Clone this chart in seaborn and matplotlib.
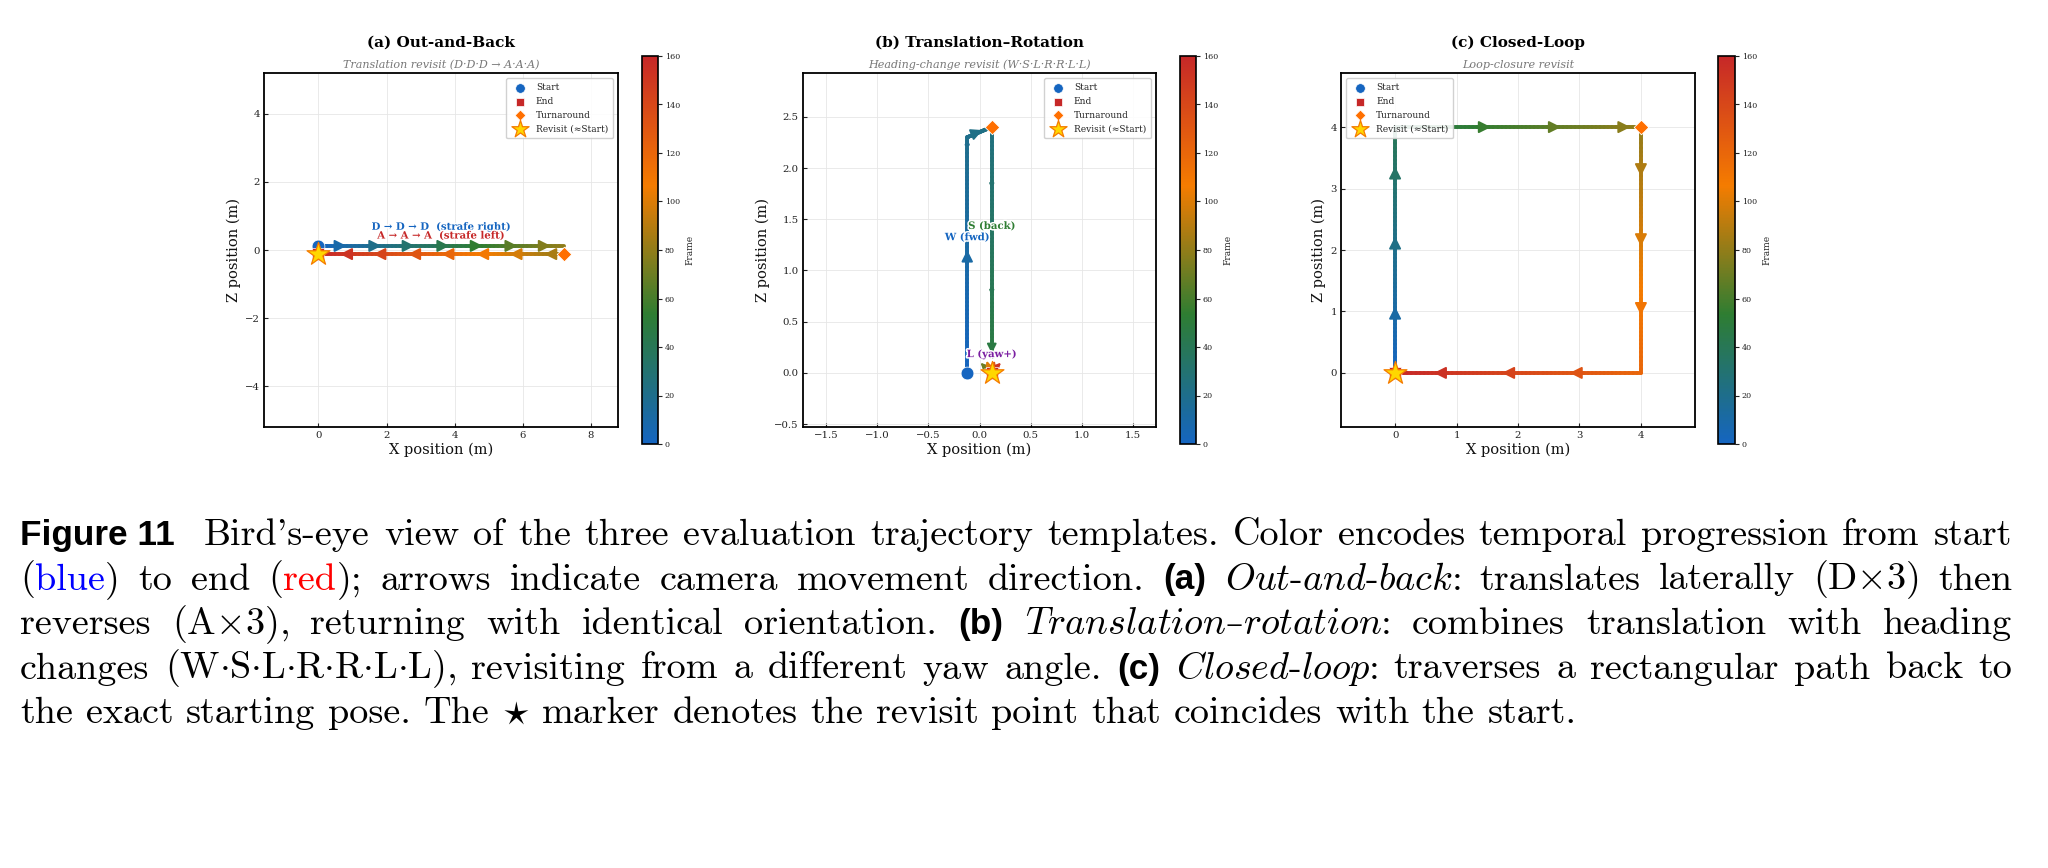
import numpy as np
import matplotlib
matplotlib.use("Agg")
import matplotlib.pyplot as plt
import matplotlib.patheffects as pe
from matplotlib.collections import LineCollection
from matplotlib.colors import LinearSegmentedColormap, Normalize
from matplotlib.cm import ScalarMappable
from matplotlib.transforms import IdentityTransform
import seaborn as sns

sns.set_theme(style="whitegrid")
plt.rcParams["font.family"] = ["DejaVu Serif"]
plt.rcParams["mathtext.fontset"] = "cm"

W, H = 2048, 868

# ---------------- data ----------------
frame_ticks = [0, 20, 40, 60, 80, 100, 120, 140, 160]
ramp = ["#1565C0", "#2E7D32", "#F57C00", "#C62828"]
marker_labels = ["Start", "End", "Turnaround", "Revisit (≈Start)"]

# (a) Out-and-Back: waypoints and frame index at each waypoint
a_path_x = [[0.0, 7.2], [7.2, 0.0]]
a_path_z = [[0.12, 0.12], [-0.12, -0.12]]
a_path_f = [[0, 80], [80, 160]]
a_arrow_x = [0.83, 1.85, 2.83, 3.85, 4.83, 5.85, 6.83, 6.63, 5.61, 4.63, 3.61, 2.63, 1.61, 0.63]
a_arrow_z = [0.12, 0.12, 0.12, 0.12, 0.12, 0.12, 0.12, -0.12, -0.12, -0.12, -0.12, -0.12, -0.12, -0.12]
a_arrow_dx = [1, 1, 1, 1, 1, 1, 1, -1, -1, -1, -1, -1, -1, -1]
a_arrow_dz = [0, 0, 0, 0, 0, 0, 0, 0, 0, 0, 0, 0, 0, 0]
a_arrow_f = [9, 21, 31, 43, 54, 65, 76, 86, 98, 109, 120, 131, 142, 153]
a_arrow_s = [18, 18, 18, 18, 18, 18, 18, 18, 18, 18, 18, 18, 18, 18]
a_marks = [(0.0, 0.12), (0.0, -0.12), (7.2, -0.12), (0.0, -0.12)]
a_labels = [("D → D → D  (strafe right)", 3.6, 0.67, "#1565C0"),
            ("A → A → A  (strafe left)", 3.6, 0.41, "#C62828")]

# (b) Translation-Rotation
b_path_x = [[-0.12, -0.12, 0.12, 0.12]]
b_path_z = [[0.0, 2.30, 2.40, 0.16]]
b_path_f = [[0, 20, 24, 48]]
b_arrow_x = [-0.12, -0.12, 0.03, 0.12, 0.12, 0.12, 0.01, 0.07, 0.15, 0.21]
b_arrow_z = [1.20, 2.28, 2.37, 1.80, 0.76, 0.19, 0.10, 0.12, 0.12, 0.10]
b_arrow_dx = [0, 0, 0.92, 0, 0, 0, -0.7, -0.3, 0.3, 0.7]
b_arrow_dz = [1, 1, 0.38, -1, -1, -1, 0.7, 0.95, 0.95, 0.7]
b_arrow_f = [10, 19, 22, 30, 41, 47, 70, 100, 130, 152]
b_arrow_s = [17, 6, 17, 6, 6, 14, 7, 7, 7, 7]
b_marks = [(-0.12, 0.0), (0.12, 0.0), (0.12, 2.40), (0.12, 0.0)]
b_labels = [("W (fwd)", -0.12, 1.32, "#1565C0"),
            ("S (back)", 0.12, 1.43, "#2E7D32"),
            ("L (yaw+)", 0.12, 0.18, "#7B1FA2")]

# (c) Closed-Loop
c_path_x = [[0.0, 0.0, 4.0, 4.0, 0.0]]
c_path_z = [[0.0, 4.0, 4.0, 0.0, 0.0]]
c_path_f = [[0, 40, 80, 120, 160]]
c_arrow_x = [0.0, 0.0, 0.0, 1.56, 2.70, 3.83, 4.0, 4.0, 4.0, 2.84, 1.74, 0.63]
c_arrow_z = [1.08, 2.22, 3.36, 4.0, 4.0, 4.0, 3.20, 2.06, 0.94, 0.0, 0.0, 0.0]
c_arrow_dx = [0, 0, 0, 1, 1, 1, 0, 0, 0, -1, -1, -1]
c_arrow_dz = [1, 1, 1, 0, 0, 0, -1, -1, -1, 0, 0, 0]
c_arrow_f = [11, 22, 34, 56, 67, 78, 88, 99, 111, 132, 143, 154]
c_arrow_s = [18, 18, 18, 18, 18, 18, 18, 18, 18, 18, 18, 18]
c_marks = [(0.0, 0.0), (0.0, 0.0), (4.0, 4.0), (0.0, 0.0)]
c_labels = []

panels = [
    dict(title="(a) Out-and-Back", sub="Translation revisit (D·D·D → A·A·A)",
         px=a_path_x, pz=a_path_z, pf=a_path_f,
         ax_=a_arrow_x, az=a_arrow_z, adx=a_arrow_dx, adz=a_arrow_dz, af=a_arrow_f, asz=a_arrow_s,
         marks=a_marks, labels=a_labels, label_z=2,
         xlim=(-1.6, 8.8), ylim=(-5.2, 5.2), xticks=[0, 2, 4, 6, 8], yticks=[-4, -2, 0, 2, 4],
         loc="upper right", box=(264, 73, 618, 427), cbox=(642, 56, 658, 444)),
    dict(title="(b) Translation–Rotation", sub="Heading-change revisit (W·S·L·R·R·L·L)",
         px=b_path_x, pz=b_path_z, pf=b_path_f,
         ax_=b_arrow_x, az=b_arrow_z, adx=b_arrow_dx, adz=b_arrow_dz, af=b_arrow_f, asz=b_arrow_s,
         marks=b_marks, labels=b_labels, label_z=6,
         xlim=(-1.727, 1.727), ylim=(-0.527, 2.927), xticks=[-1.5, -1.0, -0.5, 0.0, 0.5, 1.0, 1.5],
         yticks=[-0.5, 0.0, 0.5, 1.0, 1.5, 2.0, 2.5],
         loc="upper right", box=(803, 73, 1156, 427), cbox=(1180, 56, 1196, 444)),
    dict(title="(c) Closed-Loop", sub="Loop-closure revisit",
         px=c_path_x, pz=c_path_z, pf=c_path_f,
         ax_=c_arrow_x, az=c_arrow_z, adx=c_arrow_dx, adz=c_arrow_dz, af=c_arrow_f, asz=c_arrow_s,
         marks=c_marks, labels=c_labels, label_z=6,
         xlim=(-0.88, 4.88), ylim=(-0.88, 4.88), xticks=[0, 1, 2, 3, 4], yticks=[0, 1, 2, 3, 4],
         loc="upper left", box=(1341, 73, 1695, 427), cbox=(1718, 56, 1735, 444)),
]

# caption
caption_text = [
    "@FIG Bird's-eye view of the three evaluation trajectory templates. Color encodes temporal progression from start",
    "@BLUE to end @RED arrows indicate camera movement direction. @A @OUT translates laterally (D$\\times$3) then",
    "reverses (A$\\times$3), returning with identical orientation. @B @TR combines translation with heading",
    "changes @WSL revisiting from a different yaw angle. @C @CL traverses a rectangular path back to",
    "the exact starting pose. The $\\star$ marker denotes the revisit point that coincides with the start.",
]
cap_special = {
    "@FIG": [("Figure 11", "bf")],
    "@BLUE": [("(", "rm"), ("blue", "blue"), (")", "rm")],
    "@RED": [("(", "rm"), ("red", "red"), (");", "rm")],
    "@A": [("(a)", "bf")],
    "@B": [("(b)", "bf")],
    "@C": [("(c)", "bf")],
    "@OUT": [("$\\mathit{Out}$-$\\mathit{and}$-$\\mathit{back}$:", "rm")],
    "@TR": [("$\\mathit{Translation}$", "rm"), ("–", "dash"), ("$\\mathit{rotation}$:", "rm")],
    "@CL": [("$\\mathit{Closed}$-$\\mathit{loop}$:", "rm")],
    "@WSL": [("(W$\\cdot$S$\\cdot$L$\\cdot$R$\\cdot$R$\\cdot$L$\\cdot$L),", "rm")],
}
CAP_SIZE = 27.5
cap_styles = {
    "rm": dict(family=["cmr10", "DejaVu Serif"], color="black", fontsize=CAP_SIZE),
    "bf": dict(family=["Liberation Sans", "DejaVu Sans"], weight="bold", color="black",
               fontsize=CAP_SIZE * 0.92),
    "blue": dict(family=["cmr10", "DejaVu Serif"], color="#0000FF", fontsize=CAP_SIZE),
    "red": dict(family=["cmr10", "DejaVu Serif"], color="#FF0000", fontsize=CAP_SIZE),
    "dash": dict(family=["DejaVu Serif"], color="black", fontsize=CAP_SIZE * 0.9),
}
cap_baselines = [545, 589.5, 634, 678.5, 723]
CAP_X0, CAP_X1 = 20, 2012

# ---------------- drawing ----------------
cmap = LinearSegmentedColormap.from_list("traj", ramp)
norm = Normalize(0, 160)


def rect(b):
    l, t, r, bt = b
    return [l / W, 1 - bt / H, (r - l) / W, (bt - t) / H]


def gradient_path(ax, xs, zs, fs):
    for i in range(len(xs) - 1):
        t = np.linspace(0, 1, 61)
        x = xs[i] + (xs[i + 1] - xs[i]) * t
        z = zs[i] + (zs[i + 1] - zs[i]) * t
        f = fs[i] + (fs[i + 1] - fs[i]) * t
        pts = np.column_stack([x, z])
        segs = np.stack([pts[:-1], pts[1:]], axis=1)
        lc = LineCollection(segs, cmap=cmap, norm=norm, linewidths=2.8,
                            capstyle="round", zorder=3)
        lc.set_array((f[:-1] + f[1:]) / 2)
        ax.add_collection(lc)


fig = plt.figure(figsize=(W / 100, H / 100), dpi=100)
fig.patch.set_facecolor("white")

for p in panels:
    ax = fig.add_axes(rect(p["box"]))
    ax.set_facecolor("white")
    for xs, zs, fs in zip(p["px"], p["pz"], p["pf"]):
        gradient_path(ax, xs, zs, fs)
    span = p["xlim"][1] - p["xlim"][0]
    for x, z, dx, dz, f, s in zip(p["ax_"], p["az"], p["adx"], p["adz"], p["af"], p["asz"]):
        eps = 0.02 * span
        ax.annotate("", xy=(x, z), xytext=(x - dx * eps, z - dz * eps),
                    arrowprops=dict(arrowstyle="-|>", color=cmap(norm(f)), lw=1.4,
                                    mutation_scale=s, shrinkA=0, shrinkB=0), zorder=4)
    for txt, x, z, col in p["labels"]:
        ax.text(x, z, txt, color=col, fontsize=7.3, fontweight="bold", ha="center", va="center",
                zorder=p["label_z"],
                path_effects=[pe.withStroke(linewidth=2.2, foreground="white")])

    (sx, sz), (ex, ez), (tx, tz), (rx, rz) = p["marks"]
    sns.scatterplot(x=[sx], y=[sz], marker="o", s=85, color="#1565C0", edgecolor="white",
                    linewidth=0.5, label=marker_labels[0], ax=ax, zorder=5)
    sns.scatterplot(x=[ex], y=[ez], marker="s", s=65, color="#C62828", edgecolor="white",
                    linewidth=0.5, label=marker_labels[1], ax=ax, zorder=5)
    sns.scatterplot(x=[tx], y=[tz], marker="D", s=55, color="#FF6F00", edgecolor="white",
                    linewidth=0.6, label=marker_labels[2], ax=ax, zorder=6)
    sns.scatterplot(x=[rx], y=[rz], marker="*", s=300, color="#FFD700", edgecolor="#F57C00",
                    linewidth=0.9, label=marker_labels[3], ax=ax, zorder=7)

    ax.set_xlim(*p["xlim"])
    ax.set_ylim(*p["ylim"])
    ax.set_xticks(p["xticks"])
    ax.set_yticks(p["yticks"])
    ax.grid(True, color="#e6e6e6", linewidth=0.6)
    ax.tick_params(direction="in", length=3, width=0.8, bottom=True, left=True,
                   labelsize=7.3, colors="#222222", pad=3)
    for sp in ax.spines.values():
        sp.set_color("black")
        sp.set_linewidth(1.3)
    ax.set_xlabel("X position (m)", fontsize=10.5, labelpad=2, color="#111111")
    ax.set_ylabel("Z position (m)", fontsize=10.5, labelpad=3, color="#111111")
    ax.text(0.5, 1.086, p["title"], transform=ax.transAxes, ha="center", va="center",
            fontsize=11, fontweight="bold", color="black")
    ax.text(0.5, 1.022, p["sub"], transform=ax.transAxes, ha="center", va="center",
            fontsize=8, fontstyle="italic", color="#777777")
    ax.legend(loc=p["loc"], fontsize=6.5, markerscale=0.75, frameon=True, framealpha=0.9,
              edgecolor="#cccccc", borderaxespad=0.6, labelspacing=0.55, handletextpad=0.8,
              borderpad=0.5)

    cax = fig.add_axes(rect(p["cbox"]))
    cb = fig.colorbar(ScalarMappable(norm=norm, cmap=cmap), cax=cax, ticks=frame_ticks)
    cb.outline.set_edgecolor("black")
    cb.outline.set_linewidth(1.2)
    cax.tick_params(right=True, direction="out", length=3, width=0.8, labelsize=5.8,
                    colors="#222222", pad=2)
    cb.set_label("Frame", fontsize=6.5, labelpad=4, color="#222222")

# caption layout (justified like the LaTeX source)
renderer = fig.canvas.get_renderer()
fs_px = CAP_SIZE * fig.dpi / 72
for li, (line, base) in enumerate(zip(caption_text, cap_baselines)):
    words = []
    for tok in line.split(" "):
        objs = []
        for s, st in cap_special.get(tok, [(tok, "rm")]):
            t = fig.text(0, 0, s, transform=IdentityTransform(),
                         ha="left", va="baseline", **cap_styles[st])
            objs.append((t, t.get_window_extent(renderer).width))
        words.append(objs)
    widths = [sum(w for _, w in o) for o in words]
    extra = [0.0] * (len(words) - 1)
    if li == 0:
        extra[0] = 0.4 * fs_px
    if li < len(caption_text) - 1:
        gap = (CAP_X1 - CAP_X0 - sum(widths) - sum(extra)) / (len(words) - 1)
    else:
        gap = 0.333 * fs_px
    x = CAP_X0
    y = H - base
    for k, objs in enumerate(words):
        for t, w in objs:
            t.set_position((x, y))
            x += w
        if k < len(extra):
            x += gap + extra[k]

fig.savefig("out.png", dpi=100)
